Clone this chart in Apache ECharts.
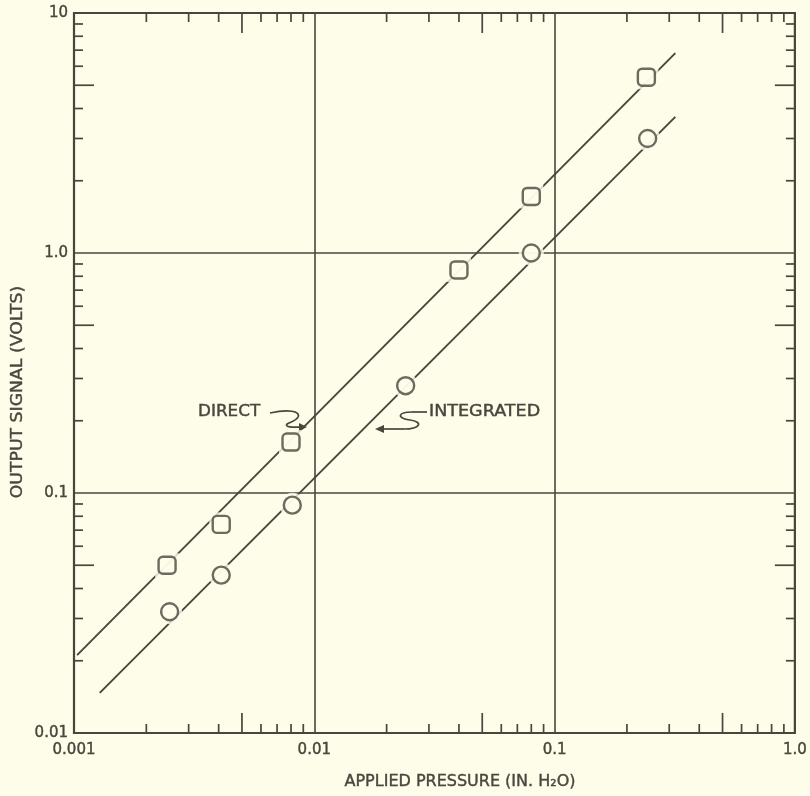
<!DOCTYPE html>
<html>
<head>
<meta charset="utf-8">
<script src="https://cdn.jsdelivr.net/npm/echarts@6/dist/echarts.min.js"></script>
<style>
html,body{margin:0;padding:0;background:#fdfde9;}
#chart{width:810px;height:796px;}
</style>
</head>
<body>
<div id="chart"></div>
<script>
// ---- data ----
const xTickLabels = ['0.001', '0.01', '0.1', '1.0'];
const yTickLabels = ['0.01', '0.1', '1.0', '10'];
const xTitle = 'APPLIED PRESSURE (IN. H\u2082O)';
const yTitle = 'OUTPUT SIGNAL (VOLTS)';
const directX = [0.00244, 0.0041, 0.0080, 0.040, 0.080, 0.241];
const directY = [0.050, 0.074, 0.163, 0.85, 1.72, 5.4];
const integratedX = [0.0025, 0.0041, 0.0081, 0.024, 0.080, 0.244];
const integratedY = [0.032, 0.0455, 0.089, 0.28, 1.0, 3.0];
// fitted straight lines (end points)
const directFitX = [0.00103, 0.318];
const directFitY = [0.0211, 6.8];
const integratedFitX = [0.00128, 0.318];
const integratedFitY = [0.0147, 3.69];
// axis furniture
const xDecades = [0.001, 0.01, 0.1];
const yDecades = [0.01, 0.1, 1];
const minorSteps = [2, 3, 4, 5, 6, 7, 8, 9];

const INK = '#4a453d';
const BG = '#fdfde9';
const FONT = 'DejaVu Sans';

const zip = (a, b) => a.map((v, i) => [v, b[i]]);

const tickData = [];
xDecades.forEach(d => minorSteps.forEach(m => tickData.push([d * m, 1, 0, m === 5 ? 1 : 0])));
yDecades.forEach(d => minorSteps.forEach(m => tickData.push([0.01, d * m, 1, m === 5 ? 1 : 0])));

function labelFor(list, minExp) {
  return function (v) {
    const i = Math.round(Math.log10(v)) - minExp;
    return list[i] !== undefined ? list[i] : '';
  };
}

const arrowStyle = {fill: null, stroke: INK, lineWidth: 1.7};
function bez(a) {
  return {type: 'bezierCurve', shape: {x1: a[0], y1: a[1], cpx1: a[2], cpy1: a[3], cpx2: a[4], cpy2: a[5], x2: a[6], y2: a[7]}, style: arrowStyle};
}
function seg(a) {
  return {type: 'line', shape: {x1: a[0], y1: a[1], x2: a[2], y2: a[3]}, style: arrowStyle};
}
const txt = {color: INK, fontFamily: FONT, textBorderColor: INK, textBorderWidth: 0.4};
function gtext(text, x, y, size, align, extra) {
  return Object.assign({type: 'text', x: x, y: y, style: {text: text, fill: INK, stroke: INK, lineWidth: 0.4, font: size + 'px "DejaVu Sans"', textVerticalAlign: 'middle', textAlign: align}}, extra || {});
}

const chart = echarts.init(document.getElementById('chart'), null, {renderer: 'canvas'});
chart.setOption({
  backgroundColor: BG,
  animation: false,
  grid: {left: 74, right: 7, top: 13, bottom: 63, show: true, borderColor: INK, borderWidth: 2.2, backgroundColor: 'transparent'},
  xAxis: {
    type: 'log', logBase: 10, min: 0.001, max: 1,
    axisLine: {show: false},
    axisTick: {show: false},
    splitLine: {show: true, lineStyle: {color: INK, width: 1.6}},
    axisLabel: Object.assign({formatter: labelFor(xTickLabels, -3), fontSize: 15, margin: 10}, txt)
  },
  yAxis: {
    type: 'log', logBase: 10, min: 0.01, max: 10,
    axisLine: {show: false},
    axisTick: {show: false},
    splitLine: {show: true, lineStyle: {color: INK, width: 1.6}},
    axisLabel: Object.assign({formatter: labelFor(yTickLabels, -2), fontSize: 15, margin: 6}, txt)
  },
  series: [
    {
      type: 'custom', silent: true, clip: false,
      encode: {x: 0, y: 1},
      data: tickData,
      renderItem: function (params, api) {
        const kind = api.value(2);
        const len = api.value(3) ? 20 : 9;
        const st = {stroke: INK, lineWidth: 1.7};
        if (kind === 0) {
          const v = api.value(0);
          const pb = api.coord([v, 0.01]);
          const pt = api.coord([v, 10]);
          return {type: 'group', children: [
            {type: 'line', shape: {x1: pb[0], y1: pb[1], x2: pb[0], y2: pb[1] - len}, style: st},
            {type: 'line', shape: {x1: pt[0], y1: pt[1], x2: pt[0], y2: pt[1] + len}, style: st}
          ]};
        } else {
          const v = api.value(1);
          const pl = api.coord([0.001, v]);
          const pr = api.coord([1, v]);
          return {type: 'group', children: [
            {type: 'line', shape: {x1: pl[0], y1: pl[1], x2: pl[0] + len, y2: pl[1]}, style: st},
            {type: 'line', shape: {x1: pr[0], y1: pr[1], x2: pr[0] - len, y2: pr[1]}, style: st}
          ]};
        }
      }
    },
    {type: 'line', data: zip(directFitX, directFitY), showSymbol: false, symbol: 'none', lineStyle: {color: INK, width: 1.9}, z: 3},
    {type: 'line', data: zip(integratedFitX, integratedFitY), showSymbol: false, symbol: 'none', lineStyle: {color: INK, width: 1.9}, z: 3},
    {type: 'scatter', data: zip(directX, directY), symbol: 'rect', symbolSize: 24, itemStyle: {color: BG}, z: 4, silent: true},
    {type: 'scatter', data: zip(integratedX, integratedY), symbol: 'circle', symbolSize: 25, itemStyle: {color: BG}, z: 4, silent: true},
    {type: 'scatter', name: 'DIRECT', data: zip(directX, directY), symbol: 'roundRect', symbolSize: 17, itemStyle: {color: BG, borderColor: INK, borderWidth: 2.4}, z: 5},
    {type: 'scatter', name: 'INTEGRATED', data: zip(integratedX, integratedY), symbol: 'circle', symbolSize: 17, itemStyle: {color: BG, borderColor: INK, borderWidth: 2.4}, z: 5}
  ],
  graphic: [
    gtext(xTitle, 460, 782, 16, 'center'),
    gtext(yTitle, 18, 392, 16, 'center', {rotation: Math.PI / 2, scaleX: 1.08}),
    gtext('DIRECT', 198, 412, 15, 'left', {scaleX: 1.12}),
    gtext('INTEGRATED', 429, 412, 15, 'left', {scaleX: 1.17}),
    bez([270, 413, 288, 409, 301, 411, 298, 417]),
    bez([298, 417, 296, 422, 284, 423, 287, 426]),
    bez([287, 426, 290, 428, 296, 427, 303, 427]),
    {type: 'polygon', shape: {points: [[307, 427], [299, 423], [299, 431]]}, style: {fill: INK}},
    seg([427, 412, 412, 412]),
    bez([412, 412, 398, 412, 396, 418, 410, 420]),
    bez([410, 420, 424, 422, 420, 429, 404, 429]),
    seg([404, 429, 381, 429]),
    {type: 'polygon', shape: {points: [[375, 429], [384, 425], [384, 433]]}, style: {fill: INK}}
  ]
});
</script>
</body>
</html>
